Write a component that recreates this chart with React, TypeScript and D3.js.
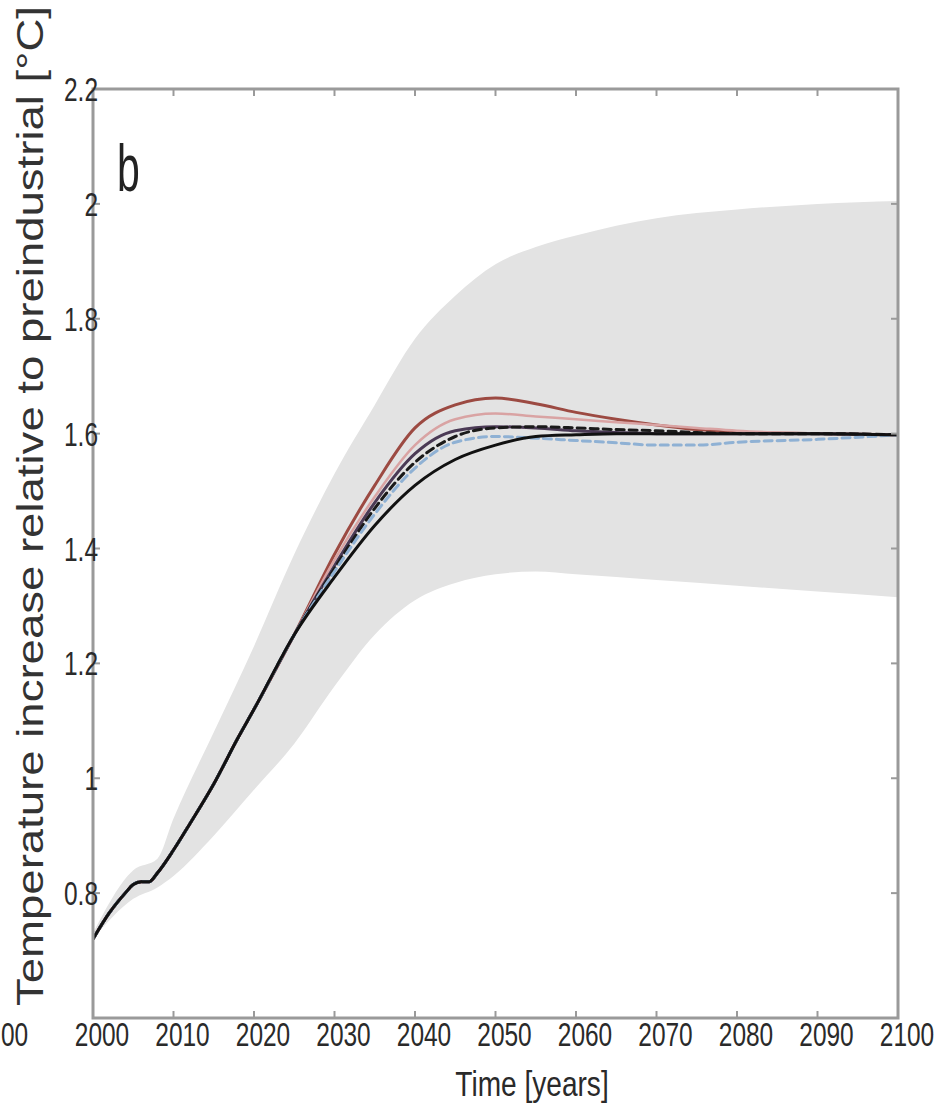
import React from 'react';
import * as d3 from 'd3';

// ---- data ----
const earlyYears = [2000, 2002, 2004, 2005, 2006, 2007, 2008, 2010, 2012, 2015, 2018, 2020, 2025];
const earlyTemp = [0.72, 0.765, 0.8, 0.815, 0.82, 0.82, 0.835, 0.875, 0.92, 0.99, 1.07, 1.12, 1.25];

const lateYears = [2030, 2035, 2040, 2045, 2050, 2055, 2060, 2065, 2070, 2075, 2080, 2090, 2100];
const redTemp = [1.39, 1.51, 1.61, 1.65, 1.662, 1.652, 1.637, 1.625, 1.615, 1.607, 1.603, 1.6, 1.598];
const pinkTemp = [1.38, 1.49, 1.58, 1.625, 1.635, 1.63, 1.625, 1.62, 1.615, 1.61, 1.605, 1.6, 1.598];
const purpleTemp = [1.37, 1.48, 1.565, 1.605, 1.612, 1.61, 1.605, 1.602, 1.6, 1.6, 1.6, 1.6, 1.598];
const blackDashTemp = [1.365, 1.47, 1.55, 1.595, 1.61, 1.612, 1.61, 1.607, 1.605, 1.602, 1.6, 1.6, 1.598];
const blueDashTemp = [1.36, 1.46, 1.54, 1.585, 1.595, 1.592, 1.588, 1.584, 1.58, 1.58, 1.585, 1.59, 1.598];
const blackTemp = [1.35, 1.44, 1.51, 1.555, 1.58, 1.595, 1.598, 1.6, 1.6, 1.6, 1.6, 1.6, 1.598];

const bandYears = [2000, 2005, 2008, 2010, 2015, 2020, 2025, 2030, 2035, 2040, 2045, 2050, 2055, 2060, 2070, 2080, 2090, 2100];
const bandUpper = [0.73, 0.84, 0.86, 0.93, 1.08, 1.23, 1.39, 1.53, 1.65, 1.765, 1.84, 1.895, 1.925, 1.945, 1.975, 1.99, 2.0, 2.005];
const bandLower = [0.72, 0.79, 0.81, 0.83, 0.9, 0.98, 1.06, 1.16, 1.25, 1.31, 1.34, 1.355, 1.36, 1.355, 1.345, 1.335, 1.325, 1.315];

const xTicks = [2000, 2010, 2020, 2030, 2040, 2050, 2060, 2070, 2080, 2090, 2100];
const yTicks = [0.8, 1, 1.2, 1.4, 1.6, 1.8, 2, 2.2];

const seriesStyles = [
  { name: 'red', values: redTemp, color: '#9c4a42', width: 3, dash: '' },
  { name: 'pink', values: pinkTemp, color: '#d9a3a3', width: 2.5, dash: '' },
  { name: 'purple', values: purpleTemp, color: '#4b3a55', width: 3, dash: '' },
  { name: 'blackDash', values: blackDashTemp, color: '#1a1a1a', width: 3, dash: '8,5' },
  { name: 'blueDash', values: blueDashTemp, color: '#8fb1d4', width: 3, dash: '8,5' },
  { name: 'black', values: blackTemp, color: '#111111', width: 3, dash: '' },
];

export default function App() {
  const W = 947;
  const H = 1115;
  const left = 93, right = 898, top = 89, bottom = 1018;

  const x = d3.scaleLinear().domain([2000, 2100]).range([left, right]);
  const y = d3.scaleLinear().domain([0.6, 2.2]).range([1008, top]);

  const line = d3
    .line<[number, number]>()
    .x((d) => x(d[0]))
    .y((d) => y(d[1]))
    .curve(d3.curveMonotoneX);

  const area = d3
    .area<number>()
    .x((_, i) => x(bandYears[i]))
    .y0((_, i) => y(bandLower[i]))
    .y1((_, i) => y(bandUpper[i]))
    .curve(d3.curveMonotoneX);

  const early: [number, number][] = earlyYears.map((yr, i) => [yr, earlyTemp[i]]);

  const font = "'Liberation Sans', Arial, sans-serif";
  const sx = 0.72;

  return (
    <svg
      width={W}
      height={H}
      style={{ position: 'absolute', left: 0, top: 0, background: '#fff' }}
    >
      <defs>
        <clipPath id="plotClip">
          <rect x={left} y={top} width={right - left} height={bottom - top} />
        </clipPath>
      </defs>

      {/* uncertainty band */}
      <path d={area(bandYears) || ''} fill="#e3e3e3" clipPath="url(#plotClip)" />

      {/* series */}
      <g clipPath="url(#plotClip)" fill="none" strokeLinejoin="round" strokeLinecap="round">
        {seriesStyles.map((s) => {
          const pts: [number, number][] = early.concat(
            lateYears.map((yr, i) => [yr, s.values[i]] as [number, number])
          );
          return (
            <path
              key={s.name}
              d={line(pts) || ''}
              stroke={s.color}
              strokeWidth={s.width}
              strokeDasharray={s.dash || undefined}
            />
          );
        })}
      </g>

      {/* axes box */}
      <rect
        x={left}
        y={top}
        width={right - left}
        height={bottom - top}
        fill="none"
        stroke="#9a9a9a"
        strokeWidth={3}
      />

      {/* x ticks */}
      {xTicks.map((t) => (
        <g key={'xt' + t}>
          <line x1={x(t)} x2={x(t)} y1={bottom} y2={bottom - 7} stroke="#9a9a9a" strokeWidth={2} />
          <line x1={x(t)} x2={x(t)} y1={top} y2={top + 7} stroke="#9a9a9a" strokeWidth={2} />
          <text
            transform={`translate(${x(t) + 9},1046) scale(${sx},1)`}
            textAnchor="middle"
            fontFamily={font}
            fontSize={34}
            fill="#2a2a2a"
          >
            {t}
          </text>
        </g>
      ))}

      {/* fragment of label from neighbouring panel */}
      <text
        transform={`translate(1,1046) scale(${sx},1)`}
        textAnchor="start"
        fontFamily={font}
        fontSize={34}
        fill="#2a2a2a"
      >
        00
      </text>

      {/* y ticks */}
      {yTicks.map((t) => {
        const label = d3.format('~g')(t);
        return (
          <g key={'yt' + t}>
            <line x1={left} x2={left + 7} y1={y(t)} y2={y(t)} stroke="#9a9a9a" strokeWidth={2} />
            <line x1={right} x2={right - 7} y1={y(t)} y2={y(t)} stroke="#9a9a9a" strokeWidth={2} />
            <text
              transform={`translate(98,${y(t) + 12}) scale(${sx},1)`}
              textAnchor="end"
              fontFamily={font}
              fontSize={34}
              fill="#2a2a2a"
            >
              {label}
            </text>
          </g>
        );
      })}

      {/* x axis title */}
      <text
        transform={`translate(532,1096) scale(0.78,1)`}
        textAnchor="middle"
        fontFamily={font}
        fontSize={36}
        fill="#2a2a2a"
      >
        Time [years]
      </text>

      {/* y axis title */}
      <text
        transform="translate(43,1006) rotate(-90)"
        textAnchor="start"
        fontFamily={font}
        fontSize={36}
        fill="#333"
        textLength={1000}
        lengthAdjust="spacingAndGlyphs"
      >
        Temperature increase relative to preindustrial [°C]
      </text>

      {/* panel letter */}
      <text
        transform="translate(117,191) scale(0.62,1)"
        fontFamily={font}
        fontSize={66}
        fill="#222"
      >
        b
      </text>
    </svg>
  );
}
